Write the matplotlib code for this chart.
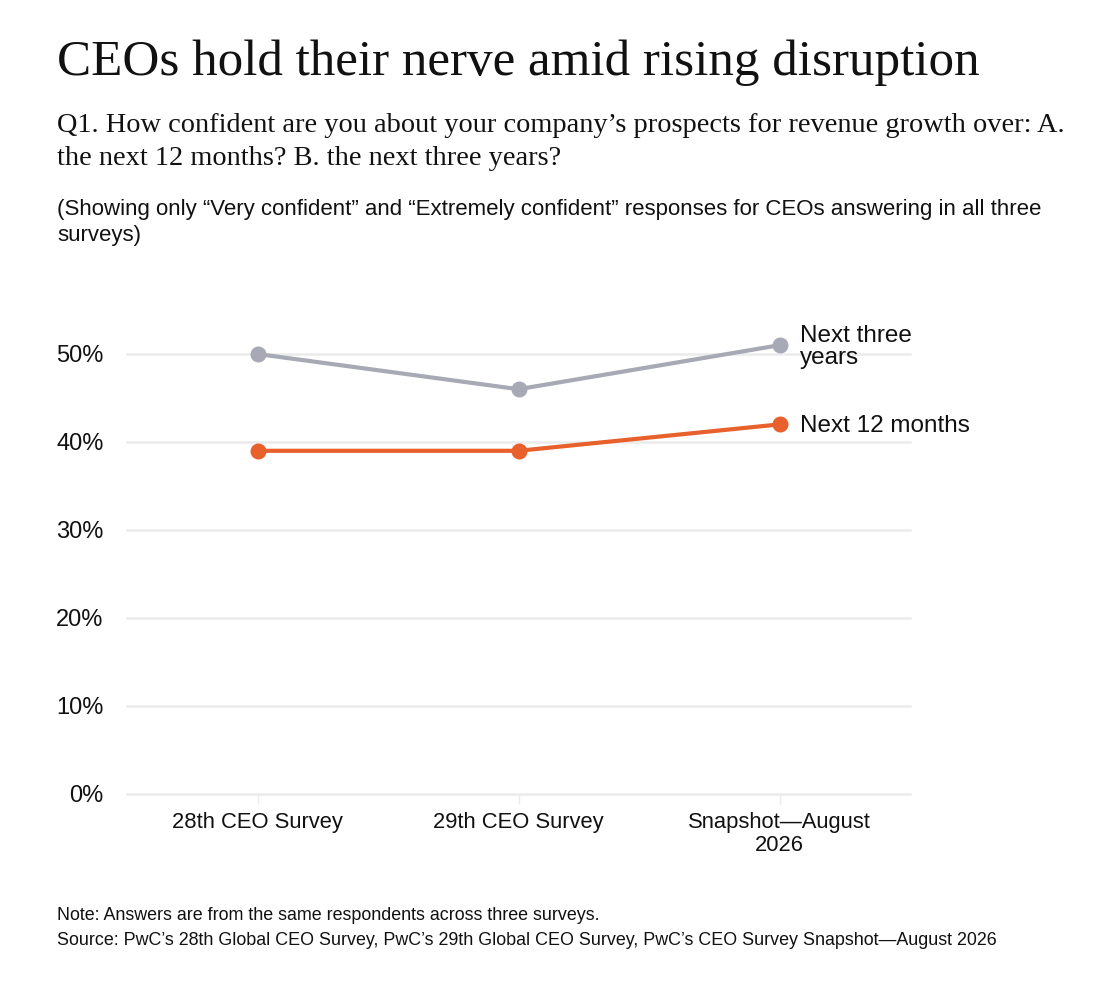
import matplotlib
matplotlib.use("Agg")
import matplotlib.pyplot as plt
from matplotlib.ticker import FuncFormatter

# Data
surveys = ["28th CEO Survey", "29th CEO Survey", "Snapshot\u2014August\n2026"]
next_three_years = [50, 46, 51]
next_12_months = [39, 39, 42]
series_labels = ["Next three\nyears", "Next 12 months"]
y_ticks = [0, 10, 20, 30, 40, 50]

GRAY = "#A7AAB4"
ORANGE = "#E8602C"
GRID = "#EBEBEB"
TEXT = "#111111"
SANS = ["Liberation Sans", "DejaVu Sans"]
SERIF = ["Liberation Serif", "DejaVu Serif"]

plt.rcParams["font.family"] = SANS

fig = plt.figure(figsize=(11.2, 9.86), dpi=100)
fig.patch.set_facecolor("white")

# header text
fig.text(57 / 1120, 1 - 75 / 986, "CEOs hold their nerve amid rising disruption",
         family=SERIF, fontsize=36.8, color=TEXT, va="baseline")
fig.text(57 / 1120, 1 - 132 / 986,
         "Q1. How confident are you about your company\u2019s prospects for revenue growth over: A.",
         family=SERIF, fontsize=20.4, color=TEXT, va="baseline")
fig.text(57 / 1120, 1 - 165 / 986, "the next 12 months? B. the next three years?",
         family=SERIF, fontsize=20.4, color=TEXT, va="baseline")
fig.text(57 / 1120, 1 - 215 / 986,
         "(Showing only \u201cVery confident\u201d and \u201cExtremely confident\u201d responses for CEOs answering in all three",
         fontsize=16, color=TEXT, va="baseline")
fig.text(57 / 1120, 1 - 241 / 986, "surveys)", fontsize=16, color=TEXT, va="baseline")

# footnotes
fig.text(57 / 1120, 1 - 920 / 986, "Note: Answers are from the same respondents across three surveys.",
         fontsize=12.9, color=TEXT, va="baseline")
fig.text(57 / 1120, 1 - 945 / 986,
         "Source: PwC\u2019s 28th Global CEO Survey, PwC\u2019s 29th Global CEO Survey, PwC\u2019s CEO Survey Snapshot\u2014August 2026",
         fontsize=12.9, color=TEXT, va="baseline")

ax = fig.add_axes([127 / 1120, 1 - 794 / 986, 783 / 1120, 484 / 986])
x = list(range(len(surveys)))

ax.plot(x, next_three_years, color=GRAY, lw=3, marker="o", ms=10.5, zorder=3,
        solid_capstyle="round")
ax.plot(x, next_12_months, color=ORANGE, lw=3, marker="o", ms=10.5, zorder=3,
        solid_capstyle="round")

# end labels
for vals, lab in zip([next_three_years, next_12_months], series_labels):
    ax.annotate(lab, xy=(x[-1], vals[-1]), xytext=(14.5, -1.5), textcoords="offset points",
                va="center", ha="left", fontsize=17.5, color=TEXT,
                linespacing=1.0, annotation_clip=False)

ax.set_xlim(-0.5, len(surveys) - 0.5)
ax.set_ylim(0, 55)
ax.set_yticks(y_ticks)
ax.yaxis.set_major_formatter(FuncFormatter(lambda v, p: f"{v:.0f}%"))
ax.set_xticks(x)
ax.set_xticklabels(surveys, fontsize=15.8, color=TEXT, linespacing=1.1)
ax.tick_params(axis="y", length=0, pad=17, labelsize=17, labelcolor=TEXT)
ax.tick_params(axis="x", length=7, width=1, color=GRID, pad=6)

ax.grid(axis="y", color=GRID, lw=1.8)
for gl in ax.get_ygridlines():
    gl.set_clip_on(False)
ax.set_axisbelow(True)
for s in ax.spines.values():
    s.set_visible(False)

fig.savefig("out.png", dpi=100, facecolor="white")
